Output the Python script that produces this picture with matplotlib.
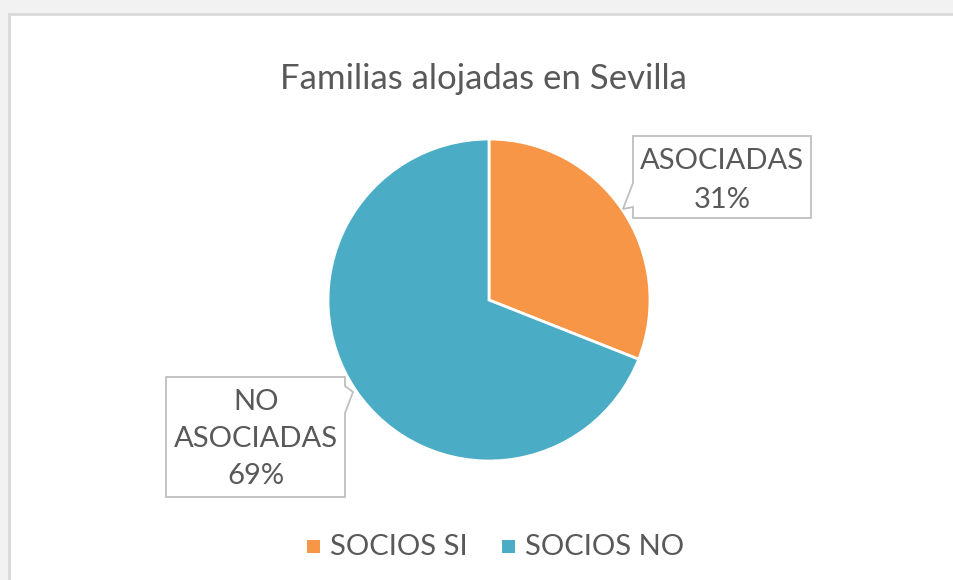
import matplotlib
matplotlib.use("Agg")
import matplotlib.pyplot as plt
from matplotlib.patches import Polygon, Rectangle
from matplotlib.transforms import Affine2D

title = "Familias alojadas en Sevilla"
categories = ["SOCIOS SI", "SOCIOS NO"]
slice_labels = ["ASOCIADAS", "NO\nASOCIADAS"]
values = [31, 69]
colors = ["#F79646", "#4BACC6"]

W, H = 954, 580
plt.rcParams['font.family'] = ['Lato', 'DejaVu Sans']
fig = plt.figure(figsize=(W / 100, H / 100), dpi=100)
fig.patch.set_facecolor("#F2F2F2")
px = Affine2D().scale(1 / W, -1 / H).translate(0, 1) + fig.transFigure

# chart area frame
fig.patches.append(Rectangle((9, 14), 960, 600, transform=px, facecolor="white",
                             edgecolor="#D9D9D9", linewidth=2, zorder=-5))

txtc = "#595959"
fs = 21
fig.text(483, 79, title, transform=px, ha="center", va="center", fontsize=25, color=txtc)

# pie
cx, cy, r = 489, 300, 161
ax = fig.add_axes([(cx - r) / W, (H - cy - r) / H, 2 * r / W, 2 * r / H])
ax.set_zorder(1)
wedges, _ = ax.pie(values, colors=colors, startangle=90, counterclock=False,
                   wedgeprops=dict(edgecolor="white", linewidth=2), radius=1)
ax.set_xlim(-1, 1)
ax.set_ylim(-1, 1)
ax.set_aspect("auto")
ax.axis("off")

# callouts
box_c = "#BFBFBF"
p1 = [(633, 136), (811, 136), (811, 218), (633, 218), (633, 207), (623, 209), (633, 183)]
fig.patches.append(Polygon(p1, closed=True, transform=px, facecolor="white", edgecolor=box_c,
                           linewidth=1.3, zorder=3))
fig.text(722, 161, slice_labels[0], transform=px, ha="center", va="center", fontsize=fs, color=txtc, zorder=4)
fig.text(722, 200, f"{values[0]}%", transform=px, ha="center", va="center", fontsize=fs, color=txtc, zorder=4)

p2 = [(166, 377), (345, 377), (345, 386), (353, 392), (345, 413), (345, 497), (166, 497)]
fig.patches.append(Polygon(p2, closed=True, transform=px, facecolor="white", edgecolor=box_c,
                           linewidth=1.3, zorder=3))
for i, t in enumerate(slice_labels[1].split("\n") + [f"{values[1]}%"]):
    fig.text(256, 402 + i * 37, t, transform=px, ha="center", va="center", fontsize=fs, color=txtc, zorder=4)

# legend
lx = [307, 502]
for x, c, lab in zip(lx, colors, categories):
    fig.patches.append(Rectangle((x, 540), 13, 13, transform=px, facecolor=c, edgecolor="none", zorder=3))
    fig.text(x + 23, 547, lab, transform=px, ha="left", va="center", fontsize=fs, color=txtc, zorder=4)

fig.savefig("out.png", dpi=100, facecolor=fig.get_facecolor())
